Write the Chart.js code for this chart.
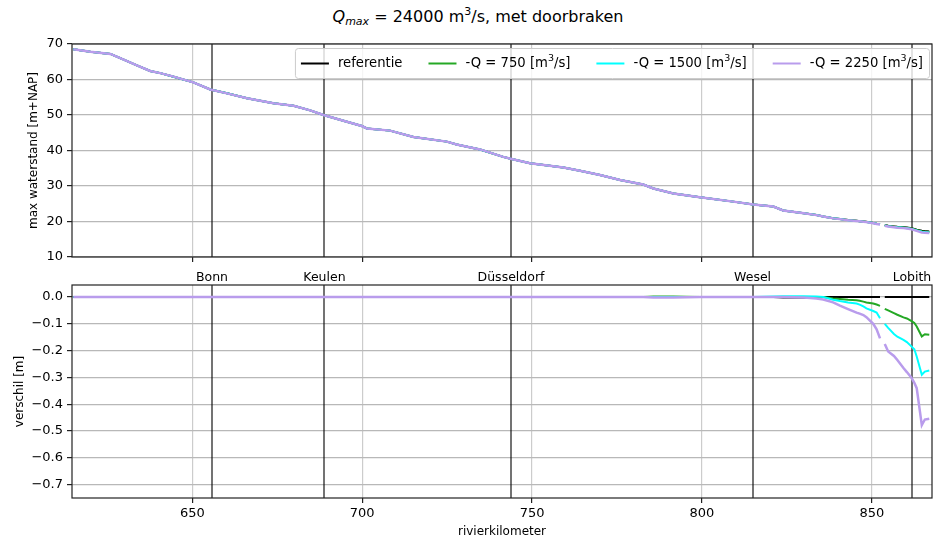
<!DOCTYPE html>
<html><head><meta charset="utf-8">
<script src="https://cdn.jsdelivr.net/npm/chart.js@4.4.1/dist/chart.umd.min.js"></script>
<style>
html,body{margin:0;padding:0;background:#fff;}
body{width:939px;height:543px;position:relative;overflow:hidden;font-family:"DejaVu Sans",sans-serif;}
#title{position:absolute;left:0;width:956px;top:5px;text-align:center;font-size:16px;line-height:24px;color:#000;white-space:nowrap;}
#title .sb{font-size:11px;vertical-align:-3px;line-height:0;font-style:italic;}
#title .sp{font-size:11px;vertical-align:7px;line-height:0;}
#c1{position:absolute;left:0;top:0;}
#c2{position:absolute;left:0;top:262px;}
</style></head><body>
<div id="title"><i>Q</i><span class="sb">max</span> = 24000 m<span class="sp">3</span>/s, met doorbraken</div>
<canvas id="c1" width="939" height="275"></canvas>
<canvas id="c2" width="939" height="281"></canvas>
<script>
// ---- data ----
const km = [615.0, 620.0, 625.9, 628.8, 633.7, 637.6, 640.6, 644.5, 650.3, 655.3,
            660.2, 666.1, 673.9, 679.8, 684.7, 688.6, 695.5, 699.9, 701.4, 708.2,
            715.1, 724.9, 727.8, 734.7, 741.5, 744.0, 749.4, 759.2, 764.1, 770.0,
            775.9, 782.7, 785.7, 791.6, 799.4, 809.2, 815.1, 821.0, 823.9, 830.0,
            833.7, 835.7, 838.6, 840.6, 843.0, 845.5, 846.4, 847.5, 848.4, 850.4,
            851.4, 852.4, 853.0, 853.8, 854.8, 856.5, 857.5, 859.3, 860.3, 861.7,
            862.5, 863.2, 864.7, 865.6, 866.9];
const refLevel = [68.5, 67.8, 67.2, 66.0, 64.0, 62.4, 61.8, 60.8, 59.2, 57.2,
                  56.1, 54.7, 53.3, 52.6, 51.3, 50.0, 48.1, 46.9, 46.2, 45.6,
                  43.8, 42.5, 41.7, 40.3, 38.2, 37.6, 36.4, 35.2, 34.3, 33.1,
                  31.7, 30.4, 29.3, 27.9, 26.8, 25.6, 24.8, 24.2, 23.1, 22.3,
                  21.8, 21.4, 20.9, 20.7, 20.4, 20.2, 20.1, 20.0, 19.9, 19.6,
                  19.4, 19.3, null, 19.0, 18.8, 18.6, 18.5, 18.4, 18.3, 18.1,
                  17.9, 17.7, 17.4, 17.3, 17.2];
const dRef = [0,0,0,0,0,0,0,0,0,0,
              0,0,0,0,0,0,0,0,0,0,
              0,0,0,0,0,0,0,0,0,0,
              0,0,0,0,0,0,0,0,-0.002,-0.002,
              0,0,0,0,0,0,0,0,0,0,
              0,0,null,0,0,0,0,0,0,0,
              0,0,0,0,0];
const dQ750 = [0,0,0,0,0,0,0,0,0,0,
               0,0,0,0,0,0,0,0,0,0,
               0,0,0,0,0,0,0,0,0,0,
               0,0,0.002,0.002,0,0,0,0,0,0,
               0,0,-0.005,-0.007,-0.010,-0.012,-0.014,-0.017,-0.020,-0.024,
               -0.028,-0.033,null,-0.044,-0.050,-0.060,-0.066,-0.076,-0.080,-0.090,
               -0.097,-0.110,-0.147,-0.139,-0.141];
const dQ1500 = [0,0,0,0,0,0,0,0,0,0,
                0,0,0,0,0,0,0,0,0,0,
                0,0,0,0,0,0,0,0,0,0,
                0,0,0,0,0,0,0,0.002,0.003,0.003,
                0.002,0,-0.010,-0.015,-0.020,-0.024,-0.028,-0.035,-0.042,-0.052,
                -0.058,-0.079,null,-0.100,-0.115,-0.138,-0.148,-0.160,-0.168,-0.185,
                -0.195,-0.222,-0.290,-0.278,-0.274];
const dQ2250 = [0,0,0,0,0,0,0,0,0,0,
                0,0,0,0,0,0,0,0,0,0,
                0,0,0,0,0,0,0,0,0,0,
                0,0,-0.002,-0.002,0,0,0,0,0,-0.002,
                -0.005,-0.009,-0.020,-0.032,-0.045,-0.058,-0.062,-0.067,-0.075,-0.100,
                -0.120,-0.154,null,-0.175,-0.203,-0.220,-0.235,-0.265,-0.280,-0.302,
                -0.320,-0.340,-0.478,-0.457,-0.454];
const seriesNames = ['referentie', '-Q = 750 [m\u00b3/s]', '-Q = 1500 [m\u00b3/s]', '-Q = 2250 [m\u00b3/s]'];
const cityKm = [655.8, 688.9, 743.8, 814.9, 861.8];
const cityNames = ['Bonn', 'Keulen', 'D\u00fcsseldorf', 'Wesel', 'Lobith'];
const xTicks = [650, 700, 750, 800, 850];
const yTicksTop = [10, 20, 30, 40, 50, 60, 70];
const yTicksBottom = [0.0, -0.1, -0.2, -0.3, -0.4, -0.5, -0.6, -0.7];

// ---- styling ----
const seriesColors = ['#000000', '#25a825', '#00ffff', '#b99cec'];
const seriesWidths = [2, 2, 2, 2.5];
const diffs = [dRef, dQ750, dQ1500, dQ2250];
const X_MIN = 614.6, X_MAX = 867.7;
const FONT = 'DejaVu Sans';
Chart.defaults.font.family = FONT;
Chart.defaults.font.size = 12;
Chart.defaults.color = '#000';
const TICK_FONT = {size: 13};

function diffPts(d) { return km.map((x, i) => ({x: x, y: d[i]})); }
function levelPts(d) {
  return km.map((x, i) => ({x: x, y: (refLevel[i] === null || d[i] === null) ? null : +(refLevel[i] + d[i]).toFixed(3)}));
}
function mkDatasets(getData) {
  return seriesNames.map((n, i) => ({
    label: n, data: getData(diffs[i]), borderColor: seriesColors[i], backgroundColor: seriesColors[i],
    borderWidth: seriesWidths[i], pointRadius: 0, pointHoverRadius: 0, fill: false, tension: 0, spanGaps: false, order: 3 - i
  }));
}

const cityLines = { id: 'cityLines', beforeDatasetsDraw(chart) {
  const {ctx, chartArea: a, scales: {x}} = chart;
  ctx.save(); ctx.strokeStyle = 'rgba(0,0,0,0.55)'; ctx.lineWidth = 2;
  cityKm.forEach(k => { const px = Math.round(x.getPixelForValue(k)); ctx.beginPath(); ctx.moveTo(px, a.top); ctx.lineTo(px, a.bottom); ctx.stroke(); });
  ctx.restore();
}};
const frame = { id: 'frame', afterDatasetsDraw(chart) {
  const {ctx, chartArea: a} = chart;
  ctx.save(); ctx.strokeStyle = '#222'; ctx.lineWidth = 1.2;
  ctx.strokeRect(a.left, a.top, a.right - a.left, a.bottom - a.top);
  ctx.restore();
}};
const LEG_FS = 13.2, SUP_FS = 9.5;
function legendParts(n) { const p = n.split('\u00b3'); return p.length === 2 ? [p[0], '3', p[1]] : [n]; }
function partWidth(ctx, parts) {
  let w = 0;
  parts.forEach((t, j) => { ctx.font = (j === 1 ? SUP_FS : LEG_FS) + 'px "' + FONT + '"'; w += ctx.measureText(t).width; });
  return w;
}
const legendBox = { id: 'legendBox', afterDraw(chart) {
  const {ctx, chartArea: a} = chart;
  ctx.save();
  const handle = 28, gap = 9, colSp = 26, pad = 6, h = 30;
  const parts = seriesNames.map(legendParts);
  const widths = parts.map(p => partWidth(ctx, p));
  const total = pad * 2 + widths.reduce((s, w) => s + handle + gap + w, 0) + colSp * (seriesNames.length - 1);
  const right = a.right - 3, top = a.top + 4, left = right - total;
  ctx.beginPath();
  if (ctx.roundRect) ctx.roundRect(left + 0.5, top + 0.5, total, h, 3); else ctx.rect(left + 0.5, top + 0.5, total, h);
  ctx.fillStyle = 'rgba(255,255,255,0.8)'; ctx.fill();
  ctx.strokeStyle = '#cccccc'; ctx.lineWidth = 1; ctx.stroke();
  let x = left + pad; const cy = top + h / 2 + 0.5;
  parts.forEach((p, i) => {
    ctx.strokeStyle = seriesColors[i]; ctx.lineWidth = 2;
    ctx.beginPath(); ctx.moveTo(x, cy); ctx.lineTo(x + handle, cy); ctx.stroke();
    x += handle + gap;
    ctx.fillStyle = '#000'; ctx.textBaseline = 'middle'; ctx.textAlign = 'left';
    let tx = x;
    p.forEach((t, j) => {
      ctx.font = (j === 1 ? SUP_FS : LEG_FS) + 'px "' + FONT + '"';
      ctx.fillText(t, tx, j === 1 ? cy - 5 : cy);
      tx += ctx.measureText(t).width;
    });
    x += widths[i] + colSp;
  });
  ctx.restore();
}};

const gridX = {color: '#cccccc', lineWidth: 1.2, tickColor: '#222', tickLength: 5, tickWidth: 1.2};
const gridY = {color: '#b8b8b8', lineWidth: 1.2, tickColor: '#222', tickLength: 5, tickWidth: 1.2};

new Chart(document.getElementById('c1'), {
  type: 'line',
  data: { datasets: mkDatasets(levelPts) },
  options: {
    responsive: false, animation: false, devicePixelRatio: 1,
    layout: {padding: {left: 0, right: 7, top: 44, bottom: 0}},
    plugins: {legend: {display: false}, tooltip: {enabled: false}, title: {display: false}},
    scales: {
      x: {type: 'linear', min: X_MIN, max: X_MAX,
          afterBuildTicks: s => { s.ticks = xTicks.map(v => ({value: v})); },
          ticks: {display: false}, grid: gridX, border: {display: false},
          afterFit: s => { s.height = 18; }},
      y: {type: 'linear', min: 10, max: 70,
          afterBuildTicks: s => { s.ticks = yTicksTop.map(v => ({value: v})); },
          ticks: {padding: 4, font: TICK_FONT}, grid: gridY, border: {display: false},
          title: {display: true, text: 'max waterstand [m+NAP]', padding: {top: 27, bottom: 0}},
          afterFit: s => { s.width = 72; }}
    }
  },
  plugins: [cityLines, frame, legendBox]
});

new Chart(document.getElementById('c2'), {
  type: 'line',
  data: { datasets: mkDatasets(diffPts) },
  options: {
    responsive: false, animation: false, devicePixelRatio: 1,
    layout: {padding: {left: 0, right: 7, top: 0, bottom: 0}},
    plugins: {legend: {display: false}, tooltip: {enabled: false}, title: {display: false}},
    scales: {
      x: {type: 'linear', position: 'bottom', min: X_MIN, max: X_MAX,
          afterBuildTicks: s => { s.ticks = xTicks.map(v => ({value: v})); },
          ticks: {padding: 3, maxRotation: 0, autoSkip: false, font: TICK_FONT}, grid: gridX, border: {display: false},
          title: {display: true, text: 'rivierkilometer', padding: {top: 4, bottom: 4}},
          afterFit: s => { s.height = 45; }},
      x2: {type: 'linear', position: 'top', min: X_MIN, max: X_MAX,
          afterBuildTicks: s => { s.ticks = cityKm.map(v => ({value: v})); },
          ticks: {padding: 0, maxRotation: 0, autoSkip: false, font: {size: 12.5}, callback: (v, i) => cityNames[i]},
          grid: {display: false, drawTicks: false}, border: {display: false},
          afterFit: s => { s.height = 23; }},
      y: {type: 'linear', min: -0.75, max: 0.045,
          afterBuildTicks: s => { s.ticks = yTicksBottom.map(v => ({value: v})); },
          ticks: {padding: 4, font: TICK_FONT, callback: v => (v === 0 ? '0.0' : (v < 0 ? '\u2212' : '') + Math.abs(v).toFixed(1))},
          grid: gridY, border: {display: false},
          title: {display: true, text: 'verschil [m]', padding: {top: 13, bottom: 0}},
          afterFit: s => { s.width = 72; }}
    }
  },
  plugins: [cityLines, frame]
});
</script>
</body></html>
